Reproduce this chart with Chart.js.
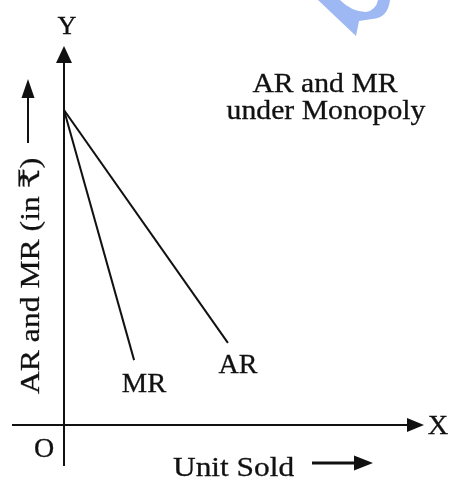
<!DOCTYPE html>
<html>
<head>
<meta charset="utf-8">
<script src="https://cdn.jsdelivr.net/npm/chart.js@4/dist/chart.umd.min.js"></script>
<style>
  html, body { margin: 0; padding: 0; background: #fff; }
  #wrap { width: 452px; height: 477px; }
</style>
</head>
<body>
<div id="wrap"><canvas id="myChart"></canvas></div>
<script>
// units sold vs revenue (arbitrary units)
var arUnits = [0, 4.63];
var arValues = [8.4, 2.19];
var mrUnits = [0, 1.98];
var mrValues = [8.4, 1.73];
var seriesNames = ['AR', 'MR'];
var xTitle = 'Unit Sold';
var yTitle = 'AR and MR (in \u20B9)';
var chartTitle = ['AR and MR', 'under Monopoly'];

function pts(xs, ys) {
    return xs.map(function (x, i) { return { x: x, y: ys[i] }; });
}

var ink = '#111';
var serif = '"Liberation Serif", "DejaVu Serif", serif';

function arrowHead(c, x, y, dir, len, half) {
    c.beginPath();
    if (dir === 'up') {
        c.moveTo(x, y); c.lineTo(x - half, y + len); c.lineTo(x + half, y + len);
    } else {
        c.moveTo(x, y); c.lineTo(x - len, y - half); c.lineTo(x - len, y + half);
    }
    c.closePath();
    c.fill();
}

// scanned text looks wider and a bit heavier than plain Liberation Serif
function txt(c, s, x, y, size, stretch, align) {
    c.save();
    c.translate(x, y);
    c.scale(stretch, 1);
    c.font = size + 'px ' + serif;
    c.textAlign = align || 'center';
    c.textBaseline = 'alphabetic';
    c.lineWidth = 0.3;
    c.strokeStyle = ink;
    c.fillText(s, 0, 0);
    c.strokeText(s, 0, 0);
    c.restore();
}

var sketch = {
    id: 'sketch',
    afterDraw: function (chart) {
        var c = chart.ctx;
        var xs = chart.scales.x, ys = chart.scales.y;
        var ox = xs.getPixelForValue(0), oy = ys.getPixelForValue(0);
        c.save();
        c.strokeStyle = ink;
        c.fillStyle = ink;
        c.lineWidth = 2;

        // watermark blob
        c.save();
        c.fillStyle = '#9db8f2';
        c.beginPath();
        c.moveTo(318, 0); c.lineTo(340, 0);
        c.quadraticCurveTo(352, 12, 366, 12);
        c.quadraticCurveTo(376, 10, 378, 0);
        c.lineTo(390, 0);
        c.quadraticCurveTo(388, 18, 372, 19);
        c.lineTo(359, 21); c.lineTo(356, 36);
        c.closePath();
        c.fill();
        c.restore();

        // y axis
        c.beginPath();
        c.moveTo(ox, 466); c.lineTo(ox, 60);
        c.stroke();
        arrowHead(c, ox, 46, 'up', 17, 8);
        // x axis
        c.beginPath();
        c.moveTo(12, oy); c.lineTo(412, oy);
        c.stroke();
        arrowHead(c, 424, oy, 'right', 17, 7);

        txt(c, 'Y', ox + 3, 34, 25, 1.05);
        txt(c, 'X', 438, oy + 9, 27, 1.05);
        txt(c, 'O', 44, 457, 28, 1.0);

        // title
        txt(c, chartTitle[0], 325, 92, 27, 1.1);
        txt(c, chartTitle[1], 326, 119, 27, 1.1);

        // series labels near line ends
        var ar = chart.getDatasetMeta(0).data[1];
        var mr = chart.getDatasetMeta(1).data[1];
        txt(c, seriesNames[0], ar.x + 10, ar.y + 30, 28, 1.0);
        txt(c, seriesNames[1], mr.x + 10, mr.y + 32, 28, 1.02);

        // x title with arrow
        txt(c, xTitle, 173, 476, 28, 1.12, 'left');
        c.lineWidth = 3;
        c.beginPath(); c.moveTo(312, 463); c.lineTo(358, 463); c.stroke();
        arrowHead(c, 373, 463, 'right', 19, 7.5);

        // y title rotated with arrow
        c.save();
        c.translate(39, 394);
        c.rotate(-Math.PI / 2);
        txt(c, yTitle, 0, 0, 28, 1.13, 'left');
        c.restore();
        c.lineWidth = 2;
        c.beginPath(); c.moveTo(28, 143); c.lineTo(28, 96); c.stroke();
        arrowHead(c, 28, 79, 'up', 19, 6.5);

        c.restore();
    }
};

var ctx = document.getElementById('myChart');
var myChart = new Chart(ctx, {
    type: 'scatter',
    data: {
        datasets: [{
            label: seriesNames[0],
            data: pts(arUnits, arValues),
            showLine: true,
            borderColor: ink,
            borderWidth: 2,
            pointRadius: 0
        }, {
            label: seriesNames[1],
            data: pts(mrUnits, mrValues),
            showLine: true,
            borderColor: ink,
            borderWidth: 2,
            pointRadius: 0
        }]
    },
    options: {
        responsive: true,
        maintainAspectRatio: false,
        animation: false,
        layout: { padding: { left: 64, right: 34, top: 50, bottom: 52 } },
        plugins: { legend: { display: false }, tooltip: { enabled: false }, title: { display: false } },
        scales: {
            x: { type: 'linear', display: false, min: 0, max: 10 },
            y: { type: 'linear', display: false, min: 0, max: 10 }
        }
    },
    plugins: [sketch]
});
</script>
</body>
</html>
